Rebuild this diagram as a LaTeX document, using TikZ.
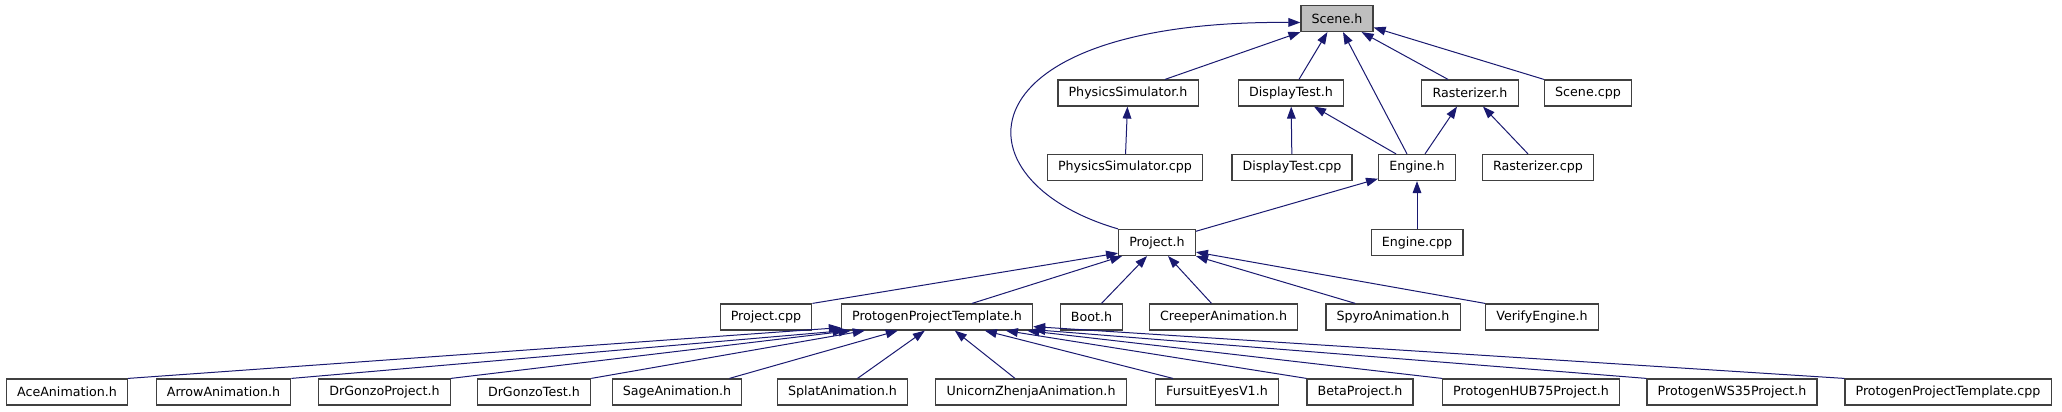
\documentclass[tikz,border=0pt]{standalone}
\usepackage{fontspec}
\setmainfont{DejaVu Sans}
\usetikzlibrary{arrows.meta,calc}

\definecolor{edgeblue}{HTML}{191970}
\definecolor{boxline}{HTML}{404040}
\definecolor{rootfill}{HTML}{BFBFBF}

\begin{document}
\begin{tikzpicture}[
    x=0.75pt, y=-0.75pt,
    file/.style={rectangle, draw=boxline, line width=0.9pt, fill=white, minimum height=19.5pt, inner xsep=8pt, inner ysep=0pt, font=\fontsize{9.5}{11}\selectfont},
    root/.style={file, fill=rootfill},
    dep/.style={-{Triangle[length=9pt, width=6.5pt]}, edgeblue, line width=0.75pt}
]
\useasboundingbox (0,0) rectangle (2062,411);

% Top level header
\node[root] (scene) at (1337,18.5) {Scene.h};

% Second row
\node[file] (physsim) at (1128,93) {PhysicsSimulator.h};
\node[file] (disptest) at (1291,93) {DisplayTest.h};
\node[file] (raster) at (1470,93) {Rasterizer.h};
\node[file] (scenecpp) at (1588,93) {Scene.cpp};

% Third row
\node[file] (physsimcpp) at (1125,167.5) {PhysicsSimulator.cpp};
\node[file] (disptestcpp) at (1292,167.5) {DisplayTest.cpp};
\node[file] (engine) at (1417,167.5) {Engine.h};
\node[file] (rastercpp) at (1538,167.5) {Rasterizer.cpp};

% Project level
\node[file] (project) at (1157,242.5) {Project.h};
\node[file] (enginecpp) at (1417,242.5) {Engine.cpp};

\node[file] (projectcpp) at (766,317) {Project.cpp};
\node[file] (ppt) at (937,317) {ProtogenProjectTemplate.h};
\node[file] (boot) at (1091.5,317) {Boot.h};
\node[file] (creeper) at (1223.5,317) {CreeperAnimation.h};
\node[file] (spyro) at (1393,317) {SpyroAnimation.h};
\node[file] (verify) at (1542,317) {VerifyEngine.h};

% Bottom row
\node[file] (ace) at (67,392) {AceAnimation.h};
\node[file] (arrow) at (223.5,392) {ArrowAnimation.h};
\node[file] (gonzoproj) at (384.5,392) {DrGonzoProject.h};
\node[file] (gonzotest) at (534,392) {DrGonzoTest.h};
\node[file] (sage) at (677,392) {SageAnimation.h};
\node[file] (splat) at (842.5,392) {SplatAnimation.h};
\node[file] (unicorn) at (1031,392) {UnicornZhenjaAnimation.h};
\node[file] (fursuit) at (1217,392) {FursuitEyesV1.h};
\node[file] (beta) at (1360,392) {BetaProject.h};
\node[file] (hub75) at (1531,392) {ProtogenHUB75Project.h};
\node[file] (ws35) at (1732,392) {ProtogenWS35Project.h};
\node[file] (pptcpp) at (1948,392) {ProtogenProjectTemplate.cpp};

% Includes of Scene.h
\draw[dep] (project.north west) .. controls (950,180) and (960,20) .. ($(scene.west)+(0,4)$);
\draw[dep] ($(physsim.north)+(37,0)$) -- (scene.south west);
\draw[dep] ($(disptest.north)+(8,0)$) -- ($(scene.south west)+(27,0)$);
\draw[dep] ($(engine.north)+(-10,0)$) -- ($(scene.south)+(6,0)$);
\draw[dep] ($(raster.north)+(-22,0)$) -- ($(scene.south east)+(-12,0)$);
\draw[dep] (scenecpp.north west) -- ($(scene.east)+(0,9)$);

\draw[dep] (physsimcpp) -- (physsim);
\draw[dep] (disptestcpp) -- (disptest);
\draw[dep] ($(engine.north)+(-21,0)$) -- ($(disptest.south)+(23,0)$);
\draw[dep] ($(engine.north)+(8,0)$) -- ($(raster.south)+(-13,0)$);
\draw[dep] ($(rastercpp.north)+(-10,0)$) -- ($(raster.south)+(13,0)$);
\draw[dep] (project) -- (engine);
\draw[dep] (enginecpp) -- (engine);

% Includes of Project.h
\draw[dep] (projectcpp.north east) -- ($(project.south west)+(0,-3)$);
\draw[dep] ($(ppt.north)+(35,0)$) -- ($(project.south west)+(4,0)$);
\draw[dep] ($(boot.north)+(10,0)$) -- ($(project.south west)+(29,0)$);
\draw[dep] ($(creeper.north)+(-12,0)$) -- ($(project.south west)+(50,0)$);
\draw[dep] ($(spyro.north west)+(30,0)$) -- (project.south east);
\draw[dep] (verify.north west) -- ($(project.south east)+(0,-4)$);

% Includes of ProtogenProjectTemplate.h
\draw[dep] (ace.north east) -- ($(ppt.south west)+(0,-3)$);
\draw[dep] (arrow.north east) -- ($(ppt.south west)+(4,0)$);
\draw[dep] (gonzoproj.north east) -- ($(ppt.south west)+(10,0)$);
\draw[dep] (gonzotest.north east) -- ($(ppt.south west)+(24,0)$);
\draw[dep] ($(sage.north east)+(-13,0)$) -- ($(ppt.south west)+(57,0)$);
\draw[dep] ($(splat.north)+(15,0)$) -- ($(ppt.south west)+(84,0)$);
\draw[dep] ($(unicorn.north)+(-16,0)$) -- ($(ppt.south west)+(114,0)$);
\draw[dep] ($(fursuit.north west)+(18,0)$) -- ($(ppt.south west)+(144,0)$);
\draw[dep] (beta.north west) -- ($(ppt.south west)+(165,0)$);
\draw[dep] (hub75.north west) -- ($(ppt.south east)+(-6,0)$);
\draw[dep] (ws35.north west) -- ($(ppt.south east)+(0,-1)$);
\draw[dep] (pptcpp.north west) -- ($(ppt.south east)+(0,-4)$);

\end{tikzpicture}
\end{document}
